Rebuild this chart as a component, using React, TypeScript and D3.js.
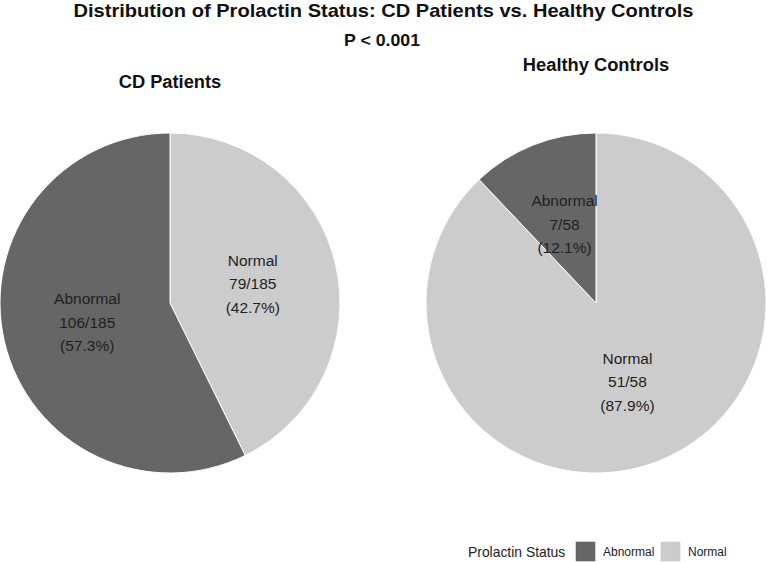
import * as React from 'react';
import * as d3 from 'd3';

// data
const groups = ['CD Patients', 'Healthy Controls'];
const statuses = ['Normal', 'Abnormal'];
const normalCounts = [79, 51];
const abnormalCounts = [106, 7];
const legendOrder = ['Abnormal', 'Normal'];

const width = 767;
const height = 562;
const radius = 170;
const font = 'Liberation Sans, Arial, sans-serif';

const colour = d3.scaleOrdinal<string, string>()
    .domain(['Abnormal', 'Normal'])
    .range(['#666666', '#cccccc']);

const groupX = d3.scalePoint<string>()
    .domain(groups)
    .range([170, 596]);

interface Slice {
    status: string;
    count: number;
    total: number;
}

const pie = d3.pie<Slice>()
    .sort(null)
    .value((d) => d.count);

const arc = d3.arc<d3.PieArcDatum<Slice>>()
    .innerRadius(0)
    .outerRadius(radius);

const labelArc = d3.arc<d3.PieArcDatum<Slice>>()
    .innerRadius(radius / 2)
    .outerRadius(radius / 2);

function PieGroup({name, index}: {name: string; index: number}) {
    const total = normalCounts[index] + abnormalCounts[index];
    const slices: Slice[] = statuses.map((s) => ({
        status: s,
        count: s === 'Normal' ? normalCounts[index] : abnormalCounts[index],
        total,
    }));
    const arcs = pie(slices);
    const cx = groupX(name) as number;
    const cy = 303;
    const lineH = 23.5;

    return (
        <g transform={`translate(${cx},${cy})`}>
            {arcs.map((a) => (
                <path key={a.data.status} d={arc(a) || ''} fill={colour(a.data.status)} stroke='white' strokeWidth={1} />
            ))}
            {arcs.map((a) => {
                const [lx, ly] = labelArc.centroid(a);
                const pct = ((a.data.count / a.data.total) * 100).toFixed(1);
                const lines = [a.data.status, `${a.data.count}/${a.data.total}`, `(${pct}%)`];
                return (
                    <text key={a.data.status + '-lbl'} textAnchor='middle' fontFamily={font} fontSize={15.5} fill='#1f1f1f'>
                        {lines.map((l, i) => (
                            <tspan key={i} x={lx} y={ly + (i - 1) * lineH + 5.5}>{l}</tspan>
                        ))}
                    </text>
                );
            })}
        </g>
    );
}

export default function App() {
    const titleY = [88, 71];
    const keyX = [576, 661];
    return (
        <svg width={width} height={height} style={{position: 'absolute', left: 0, top: 0, background: 'white'}}>
            <rect width={width} height={height} fill='white' />
            <text x={383.5} y={17} textAnchor='middle' fontFamily={font} fontWeight='bold' fontSize={18.5}
                textLength={620} lengthAdjust='spacingAndGlyphs' fill='#111'>
                Distribution of Prolactin Status: CD Patients vs. Healthy Controls
            </text>
            <text x={382} y={46} textAnchor='middle' fontFamily={font} fontWeight='bold' fontSize={17}
                textLength={76} lengthAdjust='spacingAndGlyphs' fill='#111'>
                P &lt; 0.001
            </text>
            {groups.map((g, i) => (
                <text key={g} x={groupX(g)} y={titleY[i]} textAnchor='middle' fontFamily={font} fontWeight='bold' fontSize={18.3} fill='#111'>
                    {g}
                </text>
            ))}
            {groups.map((g, i) => <PieGroup key={g} name={g} index={i} />)}
            <g className='legend'>
                <text x={468} y={557} fontFamily={font} fontSize={13.9} fill='#222'>Prolactin Status</text>
                {legendOrder.map((s, i) => (
                    <g key={s}>
                        <rect x={keyX[i]} y={542} width={19} height={19} fill={colour(s)} stroke={i === 0 ? '#555' : '#c4c4c4'} strokeWidth={0.5} />
                        <text x={keyX[i] + 27} y={556} fontFamily={font} fontSize={12} fill='#222'>{s}</text>
                    </g>
                ))}
            </g>
        </svg>
    );
}
